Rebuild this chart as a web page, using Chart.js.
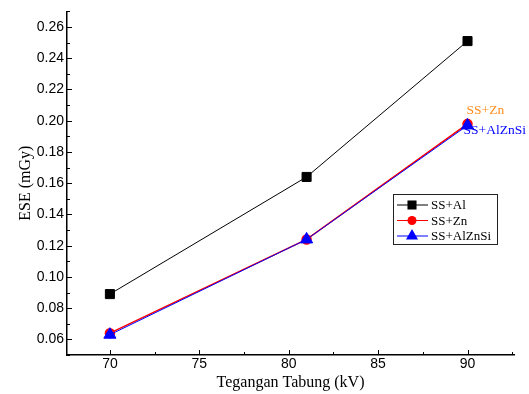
<!DOCTYPE html>
<html>
<head>
<meta charset="utf-8">
<script src="https://cdn.jsdelivr.net/npm/chart.js@4.4.1/dist/chart.umd.min.js"></script>
<style>
  html, body { margin: 0; padding: 0; background: #fff; }
  #wrap { width: 529px; height: 394px; }
</style>
</head>
<body>
<div id="wrap"><canvas id="eseChart" width="529" height="394"></canvas></div>
<script>
// data
var kv = [70, 81, 90];
var esePlusAl = [0.089, 0.164, 0.251];
var esePlusZn = [0.064, 0.124, 0.198];
var esePlusAlZnSi = [0.063, 0.124, 0.197];
var seriesNames = ["SS+Al", "SS+Zn", "SS+AlZnSi"];
var xTicks = [70, 75, 80, 85, 90];
var yTicks = [0.06, 0.08, 0.10, 0.12, 0.14, 0.16, 0.18, 0.20, 0.22, 0.24, 0.26];

function pts(ys) {
    return kv.map(function (x, i) { return { x: x, y: ys[i] }; });
}

var serif = "'Liberation Serif', 'Times New Roman', serif";
var sans = "'Liberation Sans', Arial, sans-serif";

// inward major/minor ticks, the little legend box and the point labels
var extras = {
    id: 'extras',
    afterDatasetsDraw: function (chart) {
        var ctx = chart.ctx;
        var xs = chart.scales.x, ys = chart.scales.y;
        var area = chart.chartArea;
        ctx.save();
        ctx.strokeStyle = '#000';
        ctx.lineWidth = 1;
        ctx.beginPath();
        for (var v = 67.5; v <= xs.max; v += 2.5) {
            if (v < xs.min) continue;
            var px = Math.round(xs.getPixelForValue(v)) + 0.5;
            var len = (v % 5 === 0) ? 5 : 3;
            ctx.moveTo(px, area.bottom);
            ctx.lineTo(px, area.bottom - len);
        }
        for (var k = 5; k <= 27; k++) {
            var val = k / 100;
            if (val < ys.min || val > ys.max) continue;
            var py = Math.round(ys.getPixelForValue(val)) + 0.5;
            var l2 = (k % 2 === 0) ? 5 : 3;
            ctx.moveTo(area.left, py);
            ctx.lineTo(area.left + l2, py);
        }
        ctx.stroke();

        // labels next to the last points
        var meta = chart.getDatasetMeta(1).data;
        var last = meta[meta.length - 1];
        ctx.font = '13.5px ' + serif;
        ctx.textBaseline = 'middle';
        ctx.textAlign = 'left';
        ctx.fillStyle = '#ff8c1a';
        ctx.fillText('SS+Zn', last.x - 1, last.y - 13);
        ctx.fillStyle = '#0000ff';
        ctx.fillText('SS+AlZnSi', last.x - 4, last.y + 7);

        // legend box
        var bx = 393, by = 194, bw = 104, bh = 50;
        ctx.fillStyle = '#fff';
        ctx.fillRect(bx, by, bw, bh);
        ctx.strokeStyle = '#222';
        ctx.lineWidth = 1;
        ctx.strokeRect(bx + 0.5, by + 0.5, bw, bh);
        var rows = chart.data.datasets;
        ctx.font = '13px ' + serif;
        for (var i = 0; i < rows.length; i++) {
            var ds = rows[i];
            var ry = by + 11 + i * 15.5;
            ctx.strokeStyle = ds.borderColor;
            ctx.lineWidth = 1;
            ctx.beginPath();
            ctx.moveTo(bx + 4, ry);
            ctx.lineTo(bx + 35, ry);
            ctx.stroke();
            ctx.fillStyle = ds.pointBackgroundColor;
            Chart.helpers.drawPoint(ctx, {
                pointStyle: ds.pointStyle, radius: ds.pointRadius, borderWidth: 0
            }, bx + 19, ry);
            ctx.fillStyle = '#000';
            ctx.fillText(seriesNames[i], bx + 38, ry + 1);
        }
        ctx.restore();
    }
};

new Chart("eseChart", {
    type: "line",
    data: {
        datasets: [{
            label: seriesNames[0],
            data: pts(esePlusAl),
            borderColor: '#000',
            backgroundColor: '#000',
            pointBackgroundColor: '#000',
            pointStyle: 'rect',
            pointRadius: 6.4,
            borderWidth: 1,
            order: 3
        }, {
            label: seriesNames[1],
            data: pts(esePlusZn),
            borderColor: '#ff0000',
            backgroundColor: '#ff0000',
            pointBackgroundColor: '#ff0000',
            pointStyle: 'circle',
            pointRadius: 4.5,
            borderWidth: 1.5,
            order: 2
        }, {
            label: seriesNames[2],
            data: pts(esePlusAlZnSi),
            borderColor: '#0000ff',
            backgroundColor: '#0000ff',
            pointBackgroundColor: '#0000ff',
            pointStyle: 'triangle',
            pointRadius: 7,
            borderWidth: 1,
            order: 1
        }]
    },
    options: {
        responsive: false,
        animation: false,
        layout: { padding: { top: 10, right: 15, left: 0, bottom: 0 } },
        plugins: {
            legend: { display: false },
            tooltip: { enabled: false }
        },
        elements: { point: { borderWidth: 0 }, line: { tension: 0 } },
        scales: {
            x: {
                type: 'linear',
                min: 67.6,
                max: 92.6,
                afterBuildTicks: function (s) { s.ticks = xTicks.map(function (v) { return { value: v }; }); },
                afterFit: function (s) { s.height = 39; },
                grid: { display: false, drawTicks: false },
                border: { display: true, color: '#000', width: 1.5 },
                ticks: { color: '#000', padding: 1, font: { family: sans, size: 14 }, maxRotation: 0 },
                title: {
                    display: true,
                    text: 'Tegangan Tabung (kV)',
                    color: '#000',
                    font: { family: serif, size: 16 },
                    padding: { top: 0, bottom: 2 }
                }
            },
            y: {
                type: 'linear',
                min: 0.05,
                max: 0.27,
                afterBuildTicks: function (s) { s.ticks = yTicks.map(function (v) { return { value: v }; }); },
                afterFit: function (s) { s.width = 67; },
                grid: { display: false, drawTicks: false },
                border: { display: true, color: '#000', width: 1.5 },
                ticks: {
                    color: '#000', padding: 3, font: { family: sans, size: 14 },
                    callback: function (v) { return v.toFixed(2); }
                },
                title: {
                    display: true,
                    text: 'ESE (mGy)',
                    color: '#000',
                    font: { family: serif, size: 16 },
                    padding: { top: 16, bottom: 0 }
                }
            }
        }
    },
    plugins: [extras]
});
</script>
</body>
</html>
